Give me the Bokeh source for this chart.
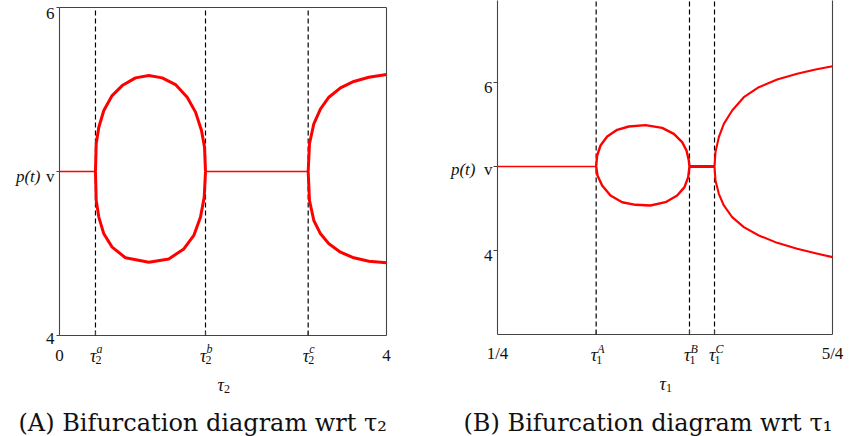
from bokeh.plotting import figure
from bokeh.layouts import row
from bokeh.models import Range1d
from bokeh.core.properties import value
from bokeh.embed import file_html
from bokeh.resources import INLINE

# ---------------- Panel A data (wrt tau2) ----------------
A_XLIM = [0, 4]
A_YLIM = [4, 6]
A_steady = 5.0
A_tau = [0.44, 1.786, 3.042]
A_tau_sub = "2"
A_tau_sup = ["a", "b", "c"]
A_flat1_x = [0.0, 0.44]
A_flat2_x = [1.786, 3.042]
A_loop_up_x = [0.440, 0.449, 0.481, 0.542, 0.644, 0.767, 0.930, 1.093, 1.256, 1.419, 1.562, 1.664, 1.737, 1.774, 1.786]
A_loop_up_y = [5.0, 5.169, 5.270, 5.372, 5.463, 5.524, 5.571, 5.585, 5.571, 5.530, 5.453, 5.362, 5.250, 5.148, 5.0]
A_loop_lo_x = [0.440, 0.449, 0.481, 0.542, 0.644, 0.807, 1.093, 1.337, 1.521, 1.643, 1.725, 1.770, 1.786]
A_loop_lo_y = [5.0, 4.823, 4.722, 4.620, 4.539, 4.474, 4.447, 4.467, 4.528, 4.610, 4.722, 4.843, 5.0]
A_br_up_x = [3.042, 3.058, 3.111, 3.193, 3.295, 3.437, 3.600, 3.784, 4.0]
A_br_up_y = [5.0, 5.169, 5.291, 5.382, 5.453, 5.510, 5.549, 5.575, 5.591]
A_br_lo_x = [3.042, 3.058, 3.111, 3.193, 3.295, 3.437, 3.600, 3.784, 4.0]
A_br_lo_y = [5.0, 4.823, 4.701, 4.620, 4.559, 4.508, 4.474, 4.453, 4.443]
A_xticks = [0, 4]
A_xlabels = ["0", "4"]
A_yticks = [4, 5, 6]
A_ylabels = ["4", "v", "6"]
A_ytitle = "p(t)"
A_xtitle = ("\u03c4", "2")
CAPTION_A = "(A) Bifurcation diagram wrt \u03c4\u2082"

# ---------------- Panel B data (wrt tau1) ----------------
B_XLIM = [0.25, 1.25]
B_YLIM = [3, 7]
B_steady = 5.0
B_tau = [0.5445, 0.8231, 0.8978]
B_tau_sub = "1"
B_tau_sup = ["A", "B", "C"]
B_flat1_x = [0.25, 0.5445]
B_flat2_x = [0.8231, 0.8978]
B_loop_up_x = [0.5445, 0.5475, 0.5575, 0.5774, 0.6072, 0.6420, 0.6918, 0.7415, 0.7764, 0.8012, 0.8142, 0.8211, 0.8231]
B_loop_up_y = [5.0, 5.131, 5.250, 5.357, 5.437, 5.476, 5.492, 5.460, 5.389, 5.290, 5.190, 5.071, 5.0]
B_loop_lo_x = [0.5445, 0.5485, 0.5624, 0.5873, 0.6221, 0.6619, 0.7067, 0.7515, 0.7863, 0.8082, 0.8192, 0.8231]
B_loop_lo_y = [5.0, 4.893, 4.774, 4.655, 4.575, 4.544, 4.536, 4.575, 4.655, 4.754, 4.873, 5.0]
B_br_up_x = [0.8978, 0.9007, 0.9107, 0.9256, 0.9505, 0.9853, 1.0301, 1.0848, 1.1445, 1.1993, 1.25]
B_br_up_y = [5.0, 5.171, 5.349, 5.508, 5.667, 5.825, 5.944, 6.036, 6.103, 6.155, 6.194]
B_br_lo_x = [0.8978, 0.9007, 0.9107, 0.9256, 0.9505, 0.9853, 1.0301, 1.0848, 1.1445, 1.1993, 1.25]
B_br_lo_y = [5.0, 4.833, 4.675, 4.536, 4.397, 4.278, 4.179, 4.091, 4.020, 3.968, 3.921]
B_xticks = [0.25, 1.25]
B_xlabels = ["1/4", "5/4"]
B_yticks = [4, 5, 6]
B_ylabels = ["4", "v", "6"]
B_ytitle = "p(t)"
B_xtitle = ("\u03c4", "1")
CAPTION_B = "(B) Bifurcation diagram wrt \u03c4\u2081"

SERIF = "Liberation Serif"
CAP_FONT = "DejaVu Serif"
FRAME = "#444444"
INK = "#111111"
RED = "#ff0000"
H = 436


class Panel:
    """Figure whose frame covers the whole canvas; the plot box sits inside it."""

    def __init__(self, width, xlim, ylim, box_left, box_right, box_top, box_bottom):
        self.ppx = (box_right - box_left) / (xlim[1] - xlim[0])
        self.ppy = (box_bottom - box_top) / (ylim[1] - ylim[0])
        self.x0 = xlim[0] - box_left / self.ppx
        self.ytop = ylim[1] + box_top / self.ppy
        self.p = figure(width=width, height=H,
                        x_range=Range1d(self.x0, self.x0 + width / self.ppx),
                        y_range=Range1d(self.ytop - H / self.ppy, self.ytop),
                        x_axis_type=None, y_axis_type=None,
                        output_backend="svg", toolbar_location=None,
                        min_border=0, min_border_left=0, min_border_right=0,
                        min_border_top=0, min_border_bottom=0)
        self.p.grid.visible = False
        self.p.outline_line_color = None
        self.p.background_fill_color = "white"
        self.p.border_fill_color = "white"

    def y_at(self, py):
        return self.ytop - py / self.ppy

    def x_at(self, px):
        return self.x0 + px / self.ppx

    def text(self, x, y, t, size, align="center", italic=False, font=SERIF, dx=0):
        self.p.text(x=x, y=y, text=t, x_offset=dx, text_font=value(font),
                    text_font_size=value(f"{size}px"), text_align=align,
                    text_baseline="alphabetic", text_color=INK,
                    text_font_style="italic" if italic else "normal")


def draw_panel(P, xlim, ylim, top_edge, steady, tau, tsub, tsup, flat1, flat2, flat2_w,
               loops, lw_loop, branches, lw_br, xticks, xlabels, yticks, ylabels,
               ytitle, xtitle, caption,
               ytick_out, y_lab_right, ylab_base, x_lab_base, tau_base, sub_base, sup_base,
               ytitle_right, xtitle_base, cap_left, cap_base):
    p = P.p
    # box (left, bottom, right and optionally top)
    p.segment(x0=[xlim[0], xlim[0], xlim[1]], y0=[ylim[0], ylim[0], ylim[0]],
              x1=[xlim[1], xlim[0], xlim[1]], y1=[ylim[0], ylim[1], ylim[1]],
              line_color=FRAME, line_width=1.1)
    if top_edge:
        p.segment(x0=[xlim[0]], y0=[ylim[1]], x1=[xlim[1]], y1=[ylim[1]],
                  line_color=FRAME, line_width=1.1)
    # dashed bifurcation lines
    p.segment(x0=tau, y0=[ylim[0]] * len(tau), x1=tau, y1=[ylim[1]] * len(tau),
              line_color="black", line_dash="5 3", line_width=1.2)
    # inward x ticks at tau, outward y ticks
    p.segment(x0=tau, y0=[ylim[0]] * len(tau), x1=tau,
              y1=[ylim[0] + 4 / P.ppy] * len(tau), line_color=FRAME, line_width=1.1)
    p.segment(x0=[xlim[0]] * len(yticks), y0=yticks,
              x1=[xlim[0] - ytick_out / P.ppx] * len(yticks), y1=yticks,
              line_color=FRAME, line_width=1.1)
    # bifurcation branches
    p.line(flat1, [steady] * 2, line_color=RED, line_width=1.6)
    p.line(flat2, [steady] * 2, line_color=RED, line_width=flat2_w)
    for (lx, ly) in loops:
        p.line(lx, ly, line_color=RED, line_width=lw_loop, line_join="round")
    for (lx, ly) in branches:
        p.line(lx, ly, line_color=RED, line_width=lw_br, line_join="round")
    # y tick labels and title
    yl_x = P.x_at(y_lab_right)
    for t, lab, base in zip(yticks, ylabels, ylab_base):
        P.text([yl_x], [P.y_at(base)], [lab], 17, align="right")
    P.text([P.x_at(ytitle_right)], [P.y_at(ylab_base[1])], [ytitle], 17, align="right", italic=True)
    # x tick labels
    P.text(xticks, [P.y_at(x_lab_base)] * len(xticks), xlabels, 17)
    # tau tick labels: tau, subscript, superscript
    n = len(tau)
    P.text(tau, [P.y_at(tau_base)] * n, ["\u03c4"] * n, 18, align="right", italic=True, dx=1)
    P.text(tau, [P.y_at(sub_base)] * n, [tsub] * n, 12, align="left", dx=0)
    P.text(tau, [P.y_at(sup_base)] * n, tsup, 12, align="left", italic=True, dx=1)
    # x title
    xm = (xlim[0] + xlim[1]) / 2
    P.text([xm], [P.y_at(xtitle_base)], [xtitle[0]], 18, align="right", italic=True, dx=1)
    P.text([xm], [P.y_at(xtitle_base + 4)], [xtitle[1]], 12, align="left", dx=1)
    # caption
    P.text([P.x_at(cap_left)], [P.y_at(cap_base)], [caption], 24, align="left", font=CAP_FONT)


PA = Panel(424, A_XLIM, A_YLIM, 59, 386, 7, 335)
draw_panel(PA, A_XLIM, A_YLIM, True, A_steady, A_tau, A_tau_sub, A_tau_sup,
           A_flat1_x, A_flat2_x, 1.6,
           [(A_loop_up_x, A_loop_up_y), (A_loop_lo_x, A_loop_lo_y)], 3.0,
           [(A_br_up_x, A_br_up_y), (A_br_lo_x, A_br_lo_y)], 3.0,
           A_xticks, A_xlabels, A_yticks, A_ylabels, A_ytitle, A_xtitle, CAPTION_A,
           ytick_out=3, y_lab_right=54, ylab_base=[338, 176, 13], x_lab_base=355,
           tau_base=355, sub_base=359, sup_base=348,
           ytitle_right=40, xtitle_base=384, cap_left=18, cap_base=422)

# panel B: y = 6 at 82 px and y = 3 at 334 px; its box top lies above the canvas
PB = Panel(425, B_XLIM, [3, 6], 73, 408, 82, 334)
draw_panel(PB, B_XLIM, B_YLIM, False, B_steady, B_tau, B_tau_sub, B_tau_sup,
           B_flat1_x, B_flat2_x, 3.2,
           [(B_loop_up_x, B_loop_up_y), (B_loop_lo_x, B_loop_lo_y)], 2.4,
           [(B_br_up_x, B_br_up_y), (B_br_lo_x, B_br_lo_y)], 2.1,
           B_xticks, B_xlabels, B_yticks, B_ylabels, B_ytitle, B_xtitle, CAPTION_B,
           ytick_out=4, y_lab_right=68, ylab_base=[255, 169, 87], x_lab_base=353,
           tau_base=354, sub_base=359, sup_base=348,
           ytitle_right=51, xtitle_base=383, cap_left=39, cap_base=422)

layout = row(PA.p, PB.p, spacing=0)
open("out.html", "w").write(file_html(layout, INLINE))
